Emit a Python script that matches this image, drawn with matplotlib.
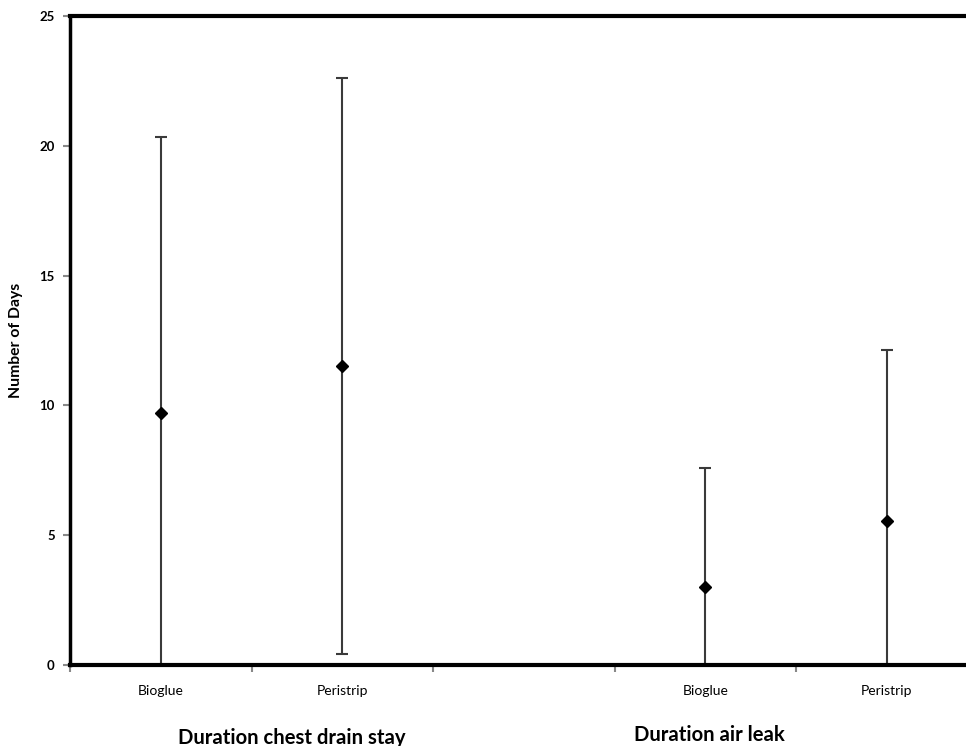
import matplotlib
matplotlib.use("Agg")
import matplotlib.pyplot as plt
import numpy as np

categories = ["Bioglue", "Peristrip", "", "Bioglue", "Peristrip"]
means = [9.7, 11.5, np.nan, 3.0, 5.55]
upper = [20.35, 22.6, np.nan, 7.6, 12.15]
lower = [0.0, 0.42, np.nan, 0.0, 0.0]
groups = ["Duration chest drain stay", "Duration air leak"]
group_pos = [1.22, 3.52]
yticks = [0, 5, 10, 15, 20, 25]

plt.rcParams['font.family'] = ['Lato', 'DejaVu Sans']

fig = plt.figure(figsize=(9.66, 7.46), dpi=100)
ax = fig.add_axes([70/966, 81/746, 907.5/966, 649/746])

x = np.arange(len(categories)) + 0.5
m = np.array(means)
yerr = np.array([m - np.array(lower), np.array(upper) - m])
ax.errorbar(x, m, yerr=yerr, fmt='D', color='black', ms=6,
            ecolor='#3a3a3a', elinewidth=1.5, capsize=4, capthick=1.5, zorder=2)

ax.set_xlim(0, 5)
ax.set_ylim(0, 25)
ax.set_yticks(yticks)
ax.set_yticklabels([str(v) for v in yticks], fontsize=9.5, fontweight='bold')
ax.set_xticks(np.arange(0, 6))
ax.set_xticklabels([])
for xi, c in zip(x, categories):
    ax.text(xi, -1.0, c, ha='center', va='center', fontsize=10)

ax.spines['right'].set_visible(False)
ax.spines['top'].set_linewidth(3)
ax.spines['bottom'].set_linewidth(3)
ax.spines['left'].set_linewidth(2.5)
for s in ['top', 'bottom', 'left']:
    ax.spines[s].set_color('black')
    ax.spines[s].set_zorder(5)
ax.tick_params(axis='both', direction='out', color='#888888', length=5, width=1.5)
ax.tick_params(axis='y', pad=6)

ax.set_ylabel("Number of Days", fontsize=11.3, fontweight='bold', labelpad=12)

ax.text(group_pos[0], -2.8, groups[0], ha='center', va='center', fontsize=14.6, fontweight='bold')
ax.text(group_pos[1], -2.7, groups[1], ha='center', va='center', fontsize=14.6, fontweight='bold')

fig.savefig("out.png", dpi=100)
